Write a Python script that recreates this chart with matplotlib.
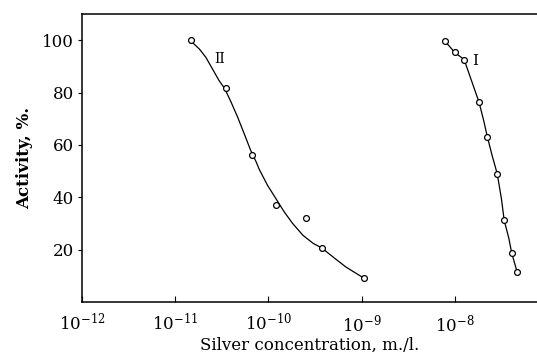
"""Activity vs silver concentration (two curves, log x)."""

import matplotlib
matplotlib.use("Agg")
import matplotlib.pyplot as plt
import numpy as np

# measured points (log10 concentration, activity %)
curve_ii_logx = [-10.83, -10.46, -10.18, -9.92, -9.60, -9.43, -8.97]
curve_ii_act = [100, 81.6, 56, 37.2, 32, 20.7, 9]
curve_i_logx = [-8.11, -8.00, -7.90, -7.74, -7.65, -7.545, -7.47, -7.39, -7.33]
curve_i_act = [99.8, 95.3, 92.6, 76.3, 63, 49, 31.2, 18.8, 11.3]

# drawn smooth curves
line_ii_logx = [-10.83, -10.74, -10.67, -10.60, -10.53, -10.47, -10.40, -10.33,
                -10.26, -10.19, -10.13, -10.10, -10.01, -9.92, -9.83, -9.74,
                -9.63, -9.52, -9.43, -9.31, -9.17, -8.97]
line_ii_act = [99.6, 96.6, 93.4, 89.0, 84.6, 81.6, 76.3, 70.6,
               64.3, 57.9, 53.4, 50.8, 44.6, 39.5, 34.4, 30.0,
               25.5, 22.4, 20.7, 17.3, 13.4, 9.0]
line_i_logx = [-8.11, -8.00, -7.90, -7.84, -7.79, -7.74, -7.69, -7.65, -7.60,
               -7.545, -7.50, -7.47, -7.42, -7.39, -7.33]
line_i_act = [99.8, 95.3, 92.6, 86.5, 81.4, 76.3, 69.3, 63.0, 56.0,
              49.0, 39.5, 31.2, 24.3, 18.8, 11.3]

xticks = [1e-12, 1e-11, 1e-10, 1e-9, 1e-8]
xticklabels = [r"$10^{-12}$", r"$10^{-11}$", r"$10^{-10}$", r"$10^{-9}$", r"$10^{-8}$"]
yticks = [20, 40, 60, 80, 100]

plt.rcParams["font.family"] = "DejaVu Serif"
plt.rcParams["mathtext.fontset"] = "dejavuserif"

fig = plt.figure(figsize=(5.37, 3.6), dpi=100)
ax = fig.add_axes([82 / 537, 58 / 360, 1 - 82 / 537, 288 / 360])

ax.plot(10 ** np.array(line_ii_logx), line_ii_act, color="black", lw=0.9)
ax.plot(10 ** np.array(line_i_logx), line_i_act, color="black", lw=0.9)
ax.plot(10 ** np.array(curve_ii_logx), curve_ii_act, "o", ms=4.2,
        mfc="white", mec="black", mew=0.9)
ax.plot(10 ** np.array(curve_i_logx), curve_i_act, "o", ms=4.2,
        mfc="white", mec="black", mew=0.9)

ax.text(10 ** -10.52, 93, "II", fontsize=10, ha="center", va="center")
ax.text(10 ** -7.78, 92, "I", fontsize=11, ha="center", va="center")

ax.set_xscale("log")
ax.set_xlim(1e-12, 10 ** -7.118)
ax.set_ylim(0, 110)
ax.set_xticks(xticks)
ax.set_xticklabels(xticklabels)
ax.minorticks_off()
ax.set_yticks(yticks)
ax.tick_params(axis="x", direction="in", length=4, labelsize=12, pad=8)
ax.tick_params(axis="y", direction="out", length=3, labelsize=12, pad=3)
ax.spines["right"].set_visible(False)
for s in ["left", "top", "bottom"]:
    ax.spines[s].set_linewidth(1.1)

ax.set_xlabel("Silver concentration, m./l.", fontsize=12, labelpad=1)
ax.set_ylabel("Activity, %.", fontsize=12, fontweight="bold", labelpad=6)

fig.savefig("out.png", dpi=100)
